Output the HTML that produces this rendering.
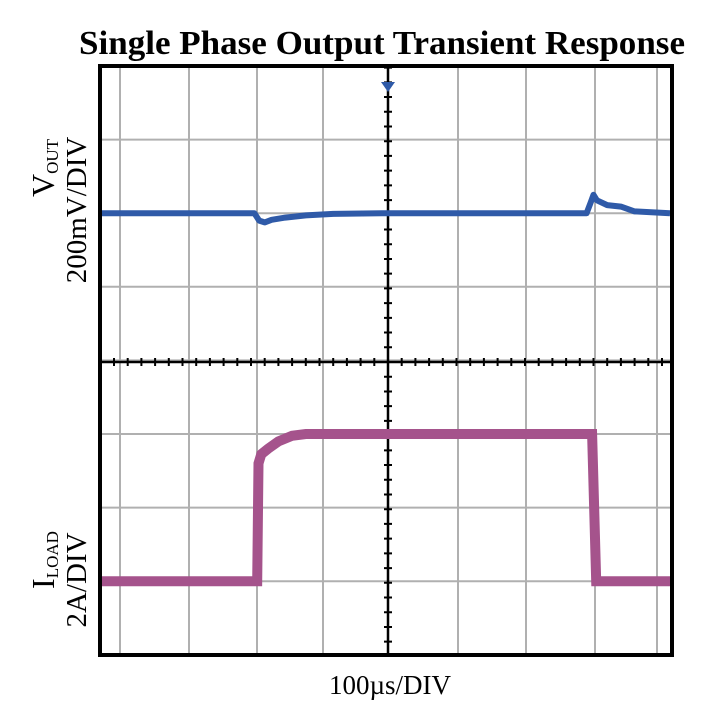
<!DOCTYPE html>
<html><head><meta charset="utf-8">
<style>
html,body{margin:0;padding:0;background:#fff;width:726px;height:715px;overflow:hidden}
svg{display:block}
text{font-family:"Liberation Serif",serif;fill:#000}
</style></head>
<body>
<svg id="chart" width="726" height="715" viewBox="0 0 726 715" xmlns="http://www.w3.org/2000/svg">
<text x="382" y="54" text-anchor="middle" font-size="34" font-weight="bold" textLength="606" lengthAdjust="spacingAndGlyphs">Single Phase Output Transient Response</text>
<g id="grid"></g>
<g id="axes"></g>
<g id="series"></g>
<rect x="100" y="66" width="572" height="589" fill="none" stroke="#000" stroke-width="4"/>
<polygon points="381,82 395,82 388,92" fill="#2f5aa8"/>
<text x="390" y="694" text-anchor="middle" font-size="27">100µs/DIV</text>
<g transform="translate(54,168) rotate(-90)"><text text-anchor="middle" font-size="32">V<tspan font-size="17" dy="4">OUT</tspan></text></g>
<text transform="translate(86,210) rotate(-90)" text-anchor="middle" font-size="29">200mV/DIV</text>
<g transform="translate(54,560) rotate(-90)"><text text-anchor="middle" font-size="32">I<tspan font-size="17" dy="4">LOAD</tspan></text></g>
<text transform="translate(86,580) rotate(-90)" text-anchor="middle" font-size="29">2A/DIV</text>
</svg>
<script>
// time in µs (100µs/div, 0 = centre), Vout deviation in mV, Iload in A above low level
const vTime = [-420,-300,-200,-195,-188,-180,-170,-150,-120,-80,0,100,200,290,296,300,305,320,340,360,430];
const vValues = [0,0,0,0,-20,-25,-18,-12,-6,-2,0,0,0,0,30,50,35,22,18,5,0];
const iTime = [-420,-200,-191,-189,-185,-175,-160,-140,-120,0,200,296,298,304,430];
const iValues = [0,0,0,3.2,3.45,3.6,3.8,3.95,4.0,4.0,4.0,4.0,4.0,0,0];
const xGridPx = [120,189,257,323,388,458,526,595,657];

const NS='http://www.w3.org/2000/svg';
const LEFT=100,RIGHT=672,TOP=66,BOTTOM=655,CX=388,CY=362,DIVY=73.6,DIVX=68.5;
const xOf=t=>Math.max(LEFT+2,Math.min(RIGHT-2,CX+t/100*DIVX));
const yV=v=>TOP+2*DIVY - v/200*DIVY;
const yI=a=>TOP+7*DIVY - a/2*DIVY;
function mk(tag,attrs,parent){const e=document.createElementNS(NS,tag);for(const k in attrs)e.setAttribute(k,attrs[k]);parent.appendChild(e);return e;}
const grid=document.getElementById('grid');
xGridPx.forEach(x=>{
  const l=mk('line',{x1:x,x2:x,y1:TOP,y2:BOTTOM,stroke:'#b0b0b0','stroke-width':2},grid);
  
  
});
for(let k=1;k<8;k++){
  const y=TOP+k*DIVY;
  const l=mk('line',{x1:LEFT,x2:RIGHT,y1:y,y2:y,stroke:'#b0b0b0','stroke-width':2},grid);
  
  
}
const axes=document.getElementById('axes');
const ha=mk('line',{x1:LEFT,x2:RIGHT,y1:CY,y2:CY,stroke:'#000','stroke-width':2.5},axes);


const va=mk('line',{x1:CX,x2:CX,y1:TOP,y2:BOTTOM,stroke:'#000','stroke-width':2.5},axes);


let d='';
for(let x=CX;x<RIGHT;x+=DIVX/5)d+=`M${x},${CY-4}V${CY+4}`;
for(let x=CX-DIVX/5;x>LEFT;x-=DIVX/5)d+=`M${x},${CY-4}V${CY+4}`;
for(let y=CY;y<BOTTOM;y+=DIVY/5)d+=`M${CX-4},${y}H${CX+4}`;
for(let y=CY-DIVY/5;y>TOP;y-=DIVY/5)d+=`M${CX-4},${y}H${CX+4}`;
const ticks=mk('path',{d:d,stroke:'#000','stroke-width':2},axes);



const series=document.getElementById('series');
const vp=vTime.map((t,i)=>`${xOf(t).toFixed(1)},${yV(vValues[i]).toFixed(1)}`).join(' ');
const vl=mk('polyline',{points:vp,fill:'none',stroke:'#2f5aa8','stroke-width':6,'stroke-linejoin':'round'},series);


const ip=iTime.map((t,i)=>`${xOf(t).toFixed(1)},${yI(iValues[i]).toFixed(1)}`).join(' ');
const il=mk('polyline',{points:ip,fill:'none',stroke:'#a5538c','stroke-width':10,'stroke-linejoin':'miter'},series);


</script>
</body></html>
